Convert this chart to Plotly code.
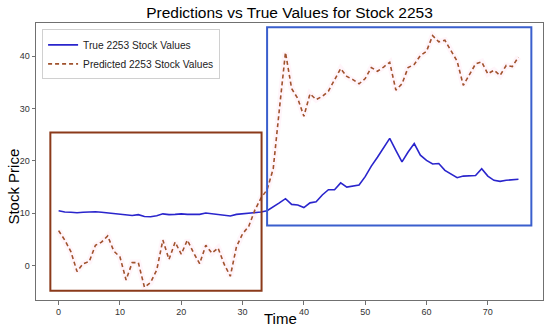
import plotly.graph_objects as go

time_steps = list(range(76))

true_values = [
    10.5, 10.25, 10.2, 10.1, 10.2, 10.25, 10.3, 10.2, 10.1, 9.9,
    9.9, 9.75, 9.6, 9.75, 9.4, 9.35, 9.55, 9.9, 9.75, 9.8,
    9.9, 9.8, 9.75, 9.8, 10.05, 9.9, 9.8, 9.7, 9.5, 9.8,
    9.9, 10.0, 10.1, 10.25, 10.5, 11.2, 12.0, 12.8, 11.7, 11.6,
    11.1, 12.0, 12.2, 13.5, 14.5, 14.5, 15.8, 15.0, 15.2, 15.4,
    17.0, 19.0, 20.7, 22.5, 24.3, 22.0, 19.8, 21.7, 23.3, 21.1,
    20.1, 19.4, 19.5, 18.2, 17.5, 16.8, 17.1, 17.1, 17.2, 18.5,
    17.1, 16.3, 16.1, 16.3, 16.4, 16.5,
]

predicted_values = [
    6.7, 4.9, 2.7, -1.1, 0.4, 0.8, 3.9, 4.5, 5.7, 2.8,
    1.7, -2.7, 0.6, 0.6, -4.1, -3.2, -0.8, 4.9, 1.2, 4.5,
    2.2, 4.9, 2.5, 0.4, 3.9, 2.4, 3.4, 0.3, -2.0, 3.6,
    6.1, 7.5, 10.6, 12.9, 14.5, 18.5, 29.8, 40.7, 33.8, 31.9,
    28.5, 32.8, 31.7, 32.3, 33.3, 35.4, 37.6, 36.1, 35.5, 34.7,
    35.7, 37.8, 37.1, 37.9, 38.8, 33.5, 34.7, 37.8, 38.4, 40.1,
    40.9, 43.9, 42.7, 43.0, 41.1, 39.0, 34.4, 36.6, 38.5, 38.9,
    36.6, 37.3, 36.3, 38.2, 38.0, 39.8,
]

x_ticks = [0, 10, 20, 30, 40, 50, 60, 70]
y_ticks = [0, 10, 20, 30, 40]

# highlight boxes (data coordinates)
red_box = dict(x0=-1.35, x1=33.1, y0=-4.75, y1=25.4)
blue_box = dict(x0=34.0, x1=77.1, y0=7.7, y1=45.5)

fig = go.Figure()

# faint glow under the prediction line
fig.add_trace(go.Scatter(
    x=time_steps, y=predicted_values, mode="lines",
    line=dict(color="rgba(255,200,225,0.18)", width=6),
    showlegend=False, hoverinfo="skip"))

fig.add_trace(go.Scatter(
    x=time_steps, y=true_values, mode="lines",
    name="True 2253 Stock Values",
    line=dict(color="#2a25cc", width=1.6)))

fig.add_trace(go.Scatter(
    x=time_steps, y=predicted_values, mode="lines",
    name="Predicted 2253 Stock Values",
    line=dict(color="#a0522d", width=1.6, dash="4px,3px")))

fig.add_shape(type="rect", xref="x", yref="y", **red_box,
              line=dict(color="#8b3a1a", width=2), layer="above")
fig.add_shape(type="rect", xref="x", yref="y", **blue_box,
              line=dict(color="#3a5fcd", width=2), layer="above")

fig.add_annotation(text="Time", xref="paper", yref="paper",
                   x=0.482, y=-0.066, xanchor="center", yanchor="middle",
                   showarrow=False, font=dict(size=15, color="black"))
fig.add_annotation(text="Stock Price", xref="paper", yref="paper",
                   x=-0.045, y=0.41, xanchor="center", yanchor="middle",
                   textangle=-90, showarrow=False,
                   font=dict(size=15, color="black"))

fig.update_layout(
    width=550, height=329,
    margin=dict(l=36, r=7, t=23, b=29, autoexpand=False),
    paper_bgcolor="white", plot_bgcolor="white",
    font=dict(family="Liberation Sans, Arial, sans-serif", color="#222"),
    title=dict(text="Predictions vs True Values for Stock 2253",
               x=0.5, xref="paper", xanchor="center",
               yref="container", y=0.963, yanchor="middle",
               font=dict(size=15.5, color="black"), automargin=False),
    legend=dict(x=0.012, y=0.977, xanchor="left", yanchor="top",
                bgcolor="rgba(255,255,255,0.8)", bordercolor="#d0d0d0",
                borderwidth=1, font=dict(size=10.2, color="#222"),
                tracegroupgap=0, itemwidth=30),
    showlegend=True,
)

fig.update_xaxes(
    range=[-3.69, 79.0], tickvals=x_ticks, ticktext=[str(v) for v in x_ticks],
    showgrid=False, zeroline=False, automargin=False,
    showline=True, linecolor="#707070", linewidth=1, mirror=True,
    ticks="outside", ticklen=3.5, tickcolor="#707070",
    tickfont=dict(size=9, color="#333"),
)
fig.update_yaxes(
    range=[-6.53, 46.3], tickvals=y_ticks, ticktext=[str(v) for v in y_ticks],
    showgrid=False, zeroline=False, automargin=False,
    showline=True, linecolor="#707070", linewidth=1, mirror=True,
    ticks="outside", ticklen=3.5, tickcolor="#707070",
    tickfont=dict(size=9, color="#333"),
)

fig.write_html("out.html",
               config={"displayModeBar": False},
               post_script="document.body.style.margin='0';document.body.style.padding='0';")
